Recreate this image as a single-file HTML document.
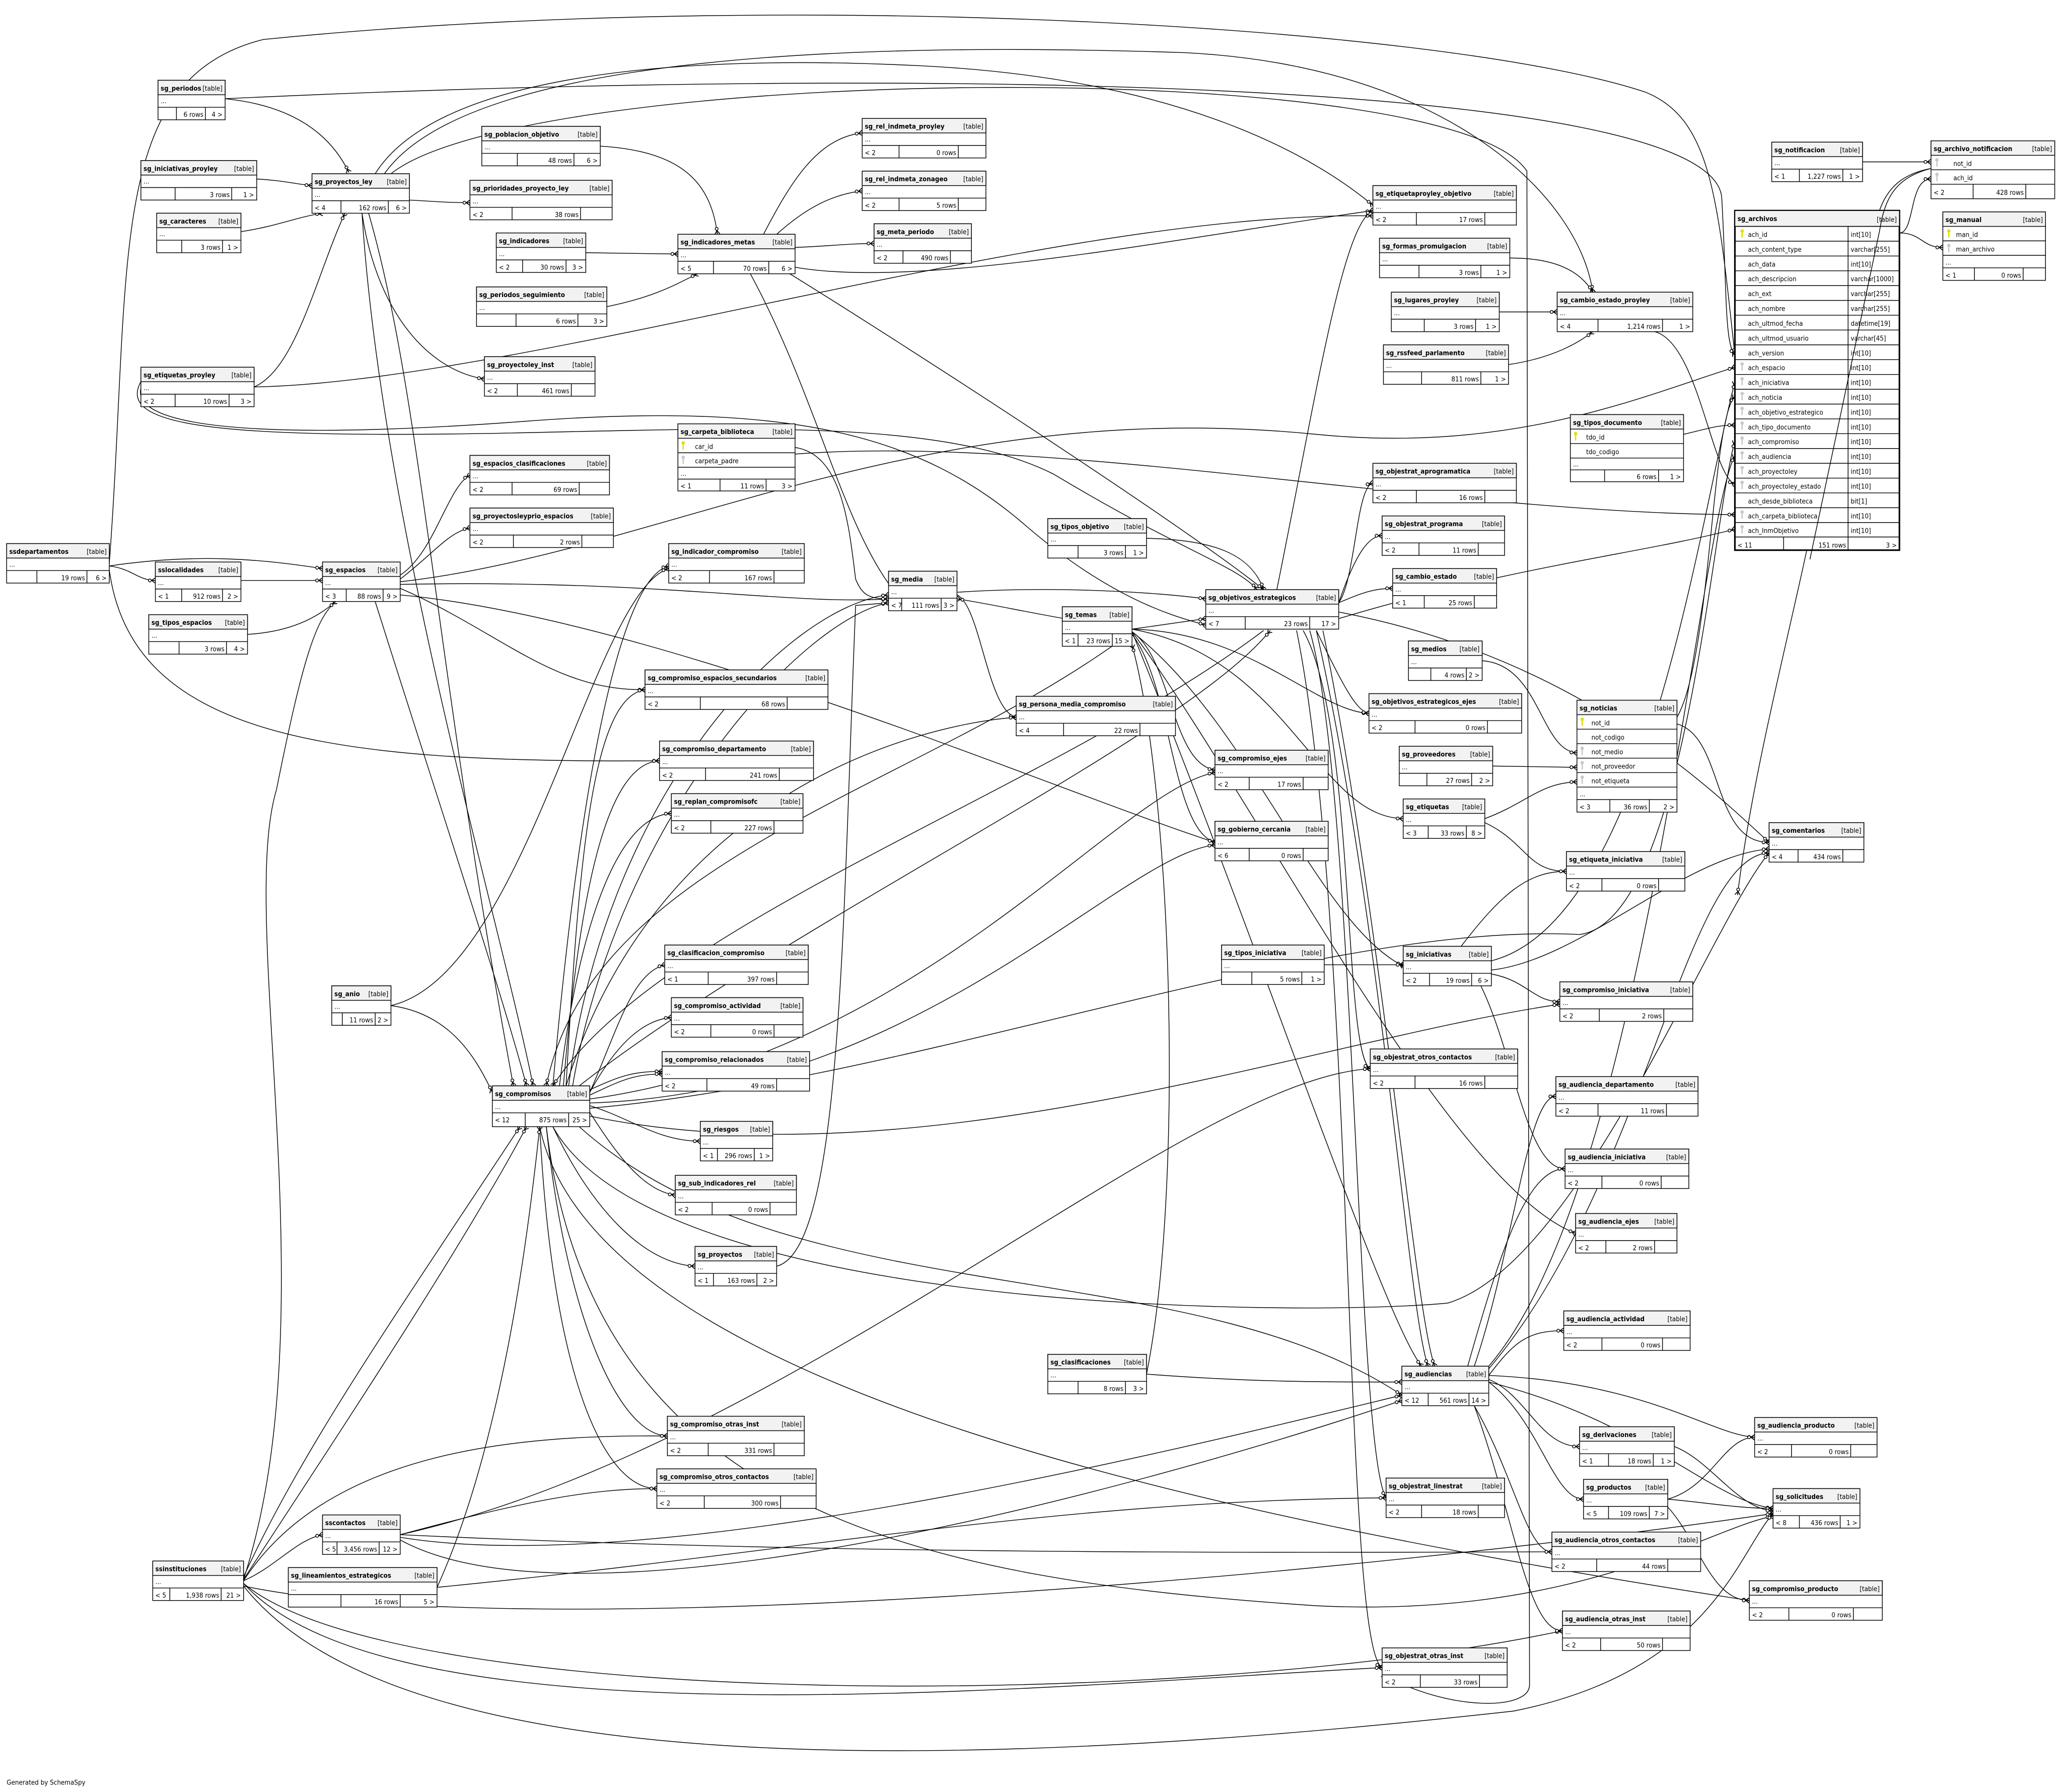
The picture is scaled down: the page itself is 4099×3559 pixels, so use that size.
<!DOCTYPE html>
<html><head><meta charset="utf-8"><style>
html,body{margin:0;padding:0;background:#fff}
svg{display:block}
text{font-family:"DejaVu Sans Condensed","DejaVu Sans","Liberation Sans",sans-serif;font-size:5.1px;fill:#000}
.n{font-weight:bold}
.e{text-anchor:end}
.t rect{fill:#fff;stroke:#000;stroke-width:.55}
.t rect.h{fill:#f2f2f2}
.t path{stroke:#000;stroke-width:.55;fill:none}
.c path{fill:none;stroke:#000;stroke-width:.55;marker-end:url(#m)}
</style></head><body>
<svg xmlns="http://www.w3.org/2000/svg" width="4099" height="3559" viewBox="0 0 1568 1361.5">
<defs>
<marker id="m" viewBox="0 0 10 6" refX="10" refY="3" markerWidth="7" markerHeight="4.2" markerUnits="userSpaceOnUse" orient="auto">
<path d="M10 0L6 3L10 6M6 3H10" fill="none" stroke="#000" stroke-width=".9"/><circle cx="4" cy="3" r="1.6" fill="#fff" stroke="#000" stroke-width=".8"/></marker>
<symbol id="kp" viewBox="0 0 3 7"><circle cx="1.5" cy="1.5" r="1.3" fill="#e0e000"/><rect x="1" y="2" width="1" height="4.6" fill="#e0e000"/></symbol>
<symbol id="kf" viewBox="0 0 3 7"><circle cx="1.5" cy="1.5" r="1.3" fill="#c8c8c8"/><rect x="1" y="2" width="1" height="4.6" fill="#c8c8c8"/></symbol>
</defs>
<rect width="1568" height="1361.5" fill="#fff"/>
<g class="c">
<path d="M171,75 C220,80 250,100 265,131"/>
<path d="M171,75 C700,50 1300,60 1308,150 C1312,220 1310,260 1318,270"/>
<path d="M195,136 C215,137 225,140 237,141"/>
<path d="M183,176 C210,172 225,165 245,162"/>
<path d="M311,152 C330,153 340,154 357,154"/>
<path d="M275,162 C285,230 320,280 368,288"/>
<path d="M285,132 C330,60 500,40 700,50 C900,60 1000,120 1043,156"/>
<path d="M292,132 C350,50 600,30 900,40 C1100,50 1200,150 1210,222"/>
<path d="M297,132 C400,50 1100,40 1160,130 L1162,1280 C1162,1300 1100,1300 1050,1272"/>
<path d="M275,162 C290,400 380,700 405,825"/>
<path d="M280,162 C320,300 330,500 390,825"/>
<path d="M456,111 C520,115 540,140 545,178"/>
<path d="M445,192 L515,193"/>
<path d="M461,233 C500,225 515,215 530,208"/>
<path d="M604,188 C630,187 645,185 664,185"/>
<path d="M580,178 C600,140 620,105 655,101"/>
<path d="M590,178 C610,160 630,148 655,145"/>
<path d="M604,203 C700,220 900,180 1043,160"/>
<path d="M600,208 C700,270 900,400 960,448"/>
<path d="M570,208 C620,300 640,400 680,450"/>
<path d="M193,294 C225,280 240,210 262,162"/>
<path d="M193,294 C400,290 800,160 1043,164"/>
<path d="M107,290 C90,320 150,330 300,330 C500,330 700,310 800,360 C900,420 940,430 955,448"/>
<path d="M107,295 C100,325 200,335 400,320 C600,305 700,330 780,400 C850,460 900,470 916,475"/>
<path d="M83,428 C100,200 80,60 200,30 C600,-10 1100,20 1250,70 C1300,90 1305,150 1318,270"/>
<path d="M83,430 C100,432 105,441 118,441"/>
<path d="M83,430 C150,420 200,425 245,432"/>
<path d="M83,433 C100,560 250,580 501,578"/>
<path d="M304,437 C330,420 340,370 357,361"/>
<path d="M304,440 C330,420 340,405 357,401"/>
<path d="M304,447 C380,480 420,525 490,524"/>
<path d="M285,457 C330,600 380,750 400,825"/>
<path d="M304,442 C500,420 700,300 1000,330 C1150,345 1250,300 1318,279"/>
<path d="M304,444 C500,440 600,460 675,455"/>
<path d="M304,452 C500,470 800,600 923,640"/>
<path d="M183,441 C210,441 225,441 245,441"/>
<path d="M188,482 C220,480 240,470 255,457"/>
<path d="M604,345 C800,330 1100,390 1318,391"/>
<path d="M604,340 C640,345 645,400 650,440 C655,452 660,455 675,455"/>
<path d="M727,452 C745,460 750,540 772,545"/>
<path d="M727,450 C800,445 880,450 916,455"/>
<path d="M860,478 L916,470"/>
<path d="M860,480 C890,500 890,580 923,585"/>
<path d="M860,482 C890,520 890,630 923,640"/>
<path d="M860,478 C950,480 1000,540 1040,542"/>
<path d="M860,480 C950,600 1100,900 1197,937"/>
<path d="M860,480 C700,600 450,650 415,825"/>
<path d="M860,478 C980,500 1000,620 1066,622"/>
<path d="M860,480 C950,550 1000,700 1066,734"/>
<path d="M860,480 C950,700 1050,1000 1080,1038"/>
<path d="M860,478 C800,470 760,460 727,455"/>
<path d="M871,409 C920,410 950,420 960,448"/>
<path d="M1017,458 C1030,440 1030,370 1043,367"/>
<path d="M1017,458 C1030,420 1040,407 1050,407"/>
<path d="M1017,458 C1035,450 1045,447 1058,447"/>
<path d="M970,448 C1000,300 1020,170 1043,160"/>
<path d="M990,479 C1030,550 1020,800 1041,812"/>
<path d="M995,479 C1030,600 1030,1100 1053,1138"/>
<path d="M985,479 C1030,700 1020,1250 1050,1267"/>
<path d="M1000,479 C1050,700 1070,1000 1085,1038"/>
<path d="M1005,479 C1050,700 1075,1000 1090,1038"/>
<path d="M960,479 C800,600 500,700 420,825"/>
<path d="M1017,470 C1150,430 1250,420 1318,402"/>
<path d="M1017,465 C1200,500 1300,600 1344,640"/>
<path d="M1000,479 C1020,520 1030,540 1040,542"/>
<path d="M1126,502 C1170,505 1170,570 1198,572"/>
<path d="M1134,582 L1198,583"/>
<path d="M1128,622 C1160,610 1170,595 1198,594"/>
<path d="M1128,625 C1160,640 1160,662 1190,662"/>
<path d="M1274,545 C1300,500 1300,320 1318,301"/>
<path d="M1274,550 C1310,560 1300,640 1344,640"/>
<path d="M1279,330 C1300,325 1305,323 1318,323"/>
<path d="M1415,123 L1467,123"/>
<path d="M1443,177 C1455,177 1450,136 1467,136"/>
<path d="M1443,177 C1460,177 1460,188 1476,188"/>
<path d="M1467,128 C1430,135 1425,160 1420,200 L1370,430 C1350,520 1330,600 1320,680"/>
<path d="M1147,196 C1180,196 1200,205 1210,222"/>
<path d="M1139,237 L1183,237"/>
<path d="M1146,277 C1180,272 1200,260 1210,252"/>
<path d="M1257,252 C1290,260 1300,360 1318,368"/>
<path d="M1006,733 L1066,733"/>
<path d="M1133,740 C1160,745 1165,761 1185,761"/>
<path d="M1125,749 C1150,800 1160,888 1189,888"/>
<path d="M1133,737 C1200,730 1280,650 1344,645"/>
<path d="M1133,730 C1250,700 1290,400 1318,290"/>
<path d="M1110,719 C1140,680 1160,662 1190,662"/>
<path d="M448,830 C470,780 480,740 505,733"/>
<path d="M448,830 C470,790 490,775 510,773"/>
<path d="M448,828 C470,818 480,814 503,814"/>
<path d="M448,832 C470,822 480,816 503,816"/>
<path d="M448,840 C480,850 500,867 532,867"/>
<path d="M448,845 C470,880 490,905 513,908"/>
<path d="M420,856 C450,920 490,960 528,962"/>
<path d="M415,856 C430,1000 470,1090 507,1091"/>
<path d="M410,856 C420,1050 460,1131 499,1131"/>
<path d="M420,825 C440,600 470,440 508,430"/>
<path d="M425,825 C440,700 470,620 510,618"/>
<path d="M428,825 C440,680 460,580 501,578"/>
<path d="M430,825 C440,650 450,530 490,524"/>
<path d="M430,825 C500,600 700,550 772,545"/>
<path d="M432,825 C460,600 600,460 675,452"/>
<path d="M435,825 C470,620 610,470 675,458"/>
<path d="M448,835 C700,800 850,600 923,587"/>
<path d="M448,838 C700,830 850,650 923,642"/>
<path d="M448,842 C700,820 1000,700 1200,710 C1280,700 1300,400 1318,335"/>
<path d="M420,856 C500,1000 1000,1000 1100,990 C1200,960 1300,700 1344,648"/>
<path d="M410,856 C450,1050 900,1150 1329,1216"/>
<path d="M448,848 C700,900 1000,790 1185,763"/>
<path d="M440,825 C600,700 900,560 965,479"/>
<path d="M440,856 C600,1000 900,950 1065,1060"/>
<path d="M415,856 C450,1150 700,1200 1000,1220 C1200,1230 1300,1160 1347,1152"/>
<path d="M297,764 C340,770 360,800 374,830"/>
<path d="M297,764 C400,740 450,450 508,432"/>
<path d="M590,962 C640,950 640,700 650,460 L675,458"/>
<path d="M304,1166 C400,1140 450,1131 499,1131"/>
<path d="M304,1166 C600,1180 900,1180 1179,1179"/>
<path d="M304,1166 C600,1100 900,820 1041,812"/>
<path d="M304,1168 C500,1200 900,1100 1065,1060"/>
<path d="M304,1170 C450,1250 900,1120 1065,1064"/>
<path d="M185,1201 C210,1190 225,1170 245,1166"/>
<path d="M185,1201 C250,1100 400,1090 507,1091"/>
<path d="M185,1203 C300,1300 900,1300 1187,1239"/>
<path d="M185,1203 C300,1330 800,1280 1050,1267"/>
<path d="M185,1200 C250,1100 350,950 400,856"/>
<path d="M185,1200 C250,1000 180,700 210,600 C230,500 240,470 255,457"/>
<path d="M185,1205 C400,1250 1000,1200 1347,1150"/>
<path d="M185,1205 C300,1350 700,1350 1150,1300 C1300,1270 1320,1180 1347,1150"/>
<path d="M185,1198 C230,1100 300,1000 395,856"/>
<path d="M332,1206 C600,1180 800,1140 1053,1138"/>
<path d="M332,1206 C380,1100 400,950 410,856"/>
<path d="M871,1044 C950,1050 1000,1050 1065,1050"/>
<path d="M871,1044 C900,900 890,600 860,490"/>
<path d="M1131,1048 C1160,1060 1170,1099 1200,1099"/>
<path d="M1131,1050 C1170,1080 1180,1139 1203,1139"/>
<path d="M1120,1068 C1150,1120 1160,1179 1179,1179"/>
<path d="M1120,1068 C1150,1150 1160,1239 1187,1239"/>
<path d="M1131,1045 C1250,1050 1300,1090 1333,1092"/>
<path d="M1131,1050 C1250,1080 1300,1140 1347,1146"/>
<path d="M1131,1040 C1250,900 1280,650 1344,648"/>
<path d="M1131,1038 C1250,900 1290,400 1318,346"/>
<path d="M1131,1045 C1150,1020 1160,1011 1188,1011"/>
<path d="M1120,1038 C1150,950 1160,833 1182,833"/>
<path d="M1115,1038 C1140,950 1160,888 1189,888"/>
<path d="M1267,1139 C1300,1130 1310,1092 1333,1092"/>
<path d="M1267,1139 C1300,1142 1320,1146 1347,1146"/>
<path d="M1267,1145 C1290,1170 1300,1216 1329,1216"/>
<path d="M1272,1099 C1300,1110 1320,1146 1347,1148"/>
</g>

<g class="t" transform="translate(120,61)"><rect width="51" height="30"/><rect class="h" width="51" height="11"/><path d="M0 20.5H51M14 20.5V30M36 20.5V30"/><text x="2" y="7.8" class="n">sg_periodos</text><text x="49" y="7.8" class="e">[table]</text><text x="2" y="17.5">...</text><text x="34.5" y="27.8" class="e">6 rows</text><text x="49" y="27.8" class="e">4 &gt;</text></g>
<g class="t" transform="translate(107,122)"><rect width="88" height="30"/><rect class="h" width="88" height="11"/><path d="M0 20.5H88M26 20.5V30M69 20.5V30"/><text x="2" y="7.8" class="n">sg_iniciativas_proyley</text><text x="86" y="7.8" class="e">[table]</text><text x="2" y="17.5">...</text><text x="67.5" y="27.8" class="e">3 rows</text><text x="86" y="27.8" class="e">1 &gt;</text></g>
<g class="t" transform="translate(119,162)"><rect width="64" height="30"/><rect class="h" width="64" height="11"/><path d="M0 20.5H64M19 20.5V30M50 20.5V30"/><text x="2" y="7.8" class="n">sg_caracteres</text><text x="62" y="7.8" class="e">[table]</text><text x="2" y="17.5">...</text><text x="48.5" y="27.8" class="e">3 rows</text><text x="62" y="27.8" class="e">1 &gt;</text></g>
<g class="t" transform="translate(237,132)"><rect width="74" height="30"/><rect class="h" width="74" height="11"/><path d="M0 20.5H74M22 20.5V30M58 20.5V30"/><text x="2" y="7.8" class="n">sg_proyectos_ley</text><text x="72" y="7.8" class="e">[table]</text><text x="2" y="17.5">...</text><text x="2" y="27.8">&lt; 4</text><text x="56.5" y="27.8" class="e">162 rows</text><text x="72" y="27.8" class="e">6 &gt;</text></g>
<g class="t" transform="translate(366,96)"><rect width="90" height="30"/><rect class="h" width="90" height="11"/><path d="M0 20.5H90M27 20.5V30M70 20.5V30"/><text x="2" y="7.8" class="n">sg_poblacion_objetivo</text><text x="88" y="7.8" class="e">[table]</text><text x="2" y="17.5">...</text><text x="68.5" y="27.8" class="e">48 rows</text><text x="88" y="27.8" class="e">6 &gt;</text></g>
<g class="t" transform="translate(357,137)"><rect width="108" height="30"/><rect class="h" width="108" height="11"/><path d="M0 20.5H108M32 20.5V30M84 20.5V30"/><text x="2" y="7.8" class="n">sg_prioridades_proyecto_ley</text><text x="106" y="7.8" class="e">[table]</text><text x="2" y="17.5">...</text><text x="2" y="27.8">&lt; 2</text><text x="82.5" y="27.8" class="e">38 rows</text></g>
<g class="t" transform="translate(655,90)"><rect width="94" height="30"/><rect class="h" width="94" height="11"/><path d="M0 20.5H94M28 20.5V30M73 20.5V30"/><text x="2" y="7.8" class="n">sg_rel_indmeta_proyley</text><text x="92" y="7.8" class="e">[table]</text><text x="2" y="17.5">...</text><text x="2" y="27.8">&lt; 2</text><text x="71.5" y="27.8" class="e">0 rows</text></g>
<g class="t" transform="translate(655,130)"><rect width="94" height="30"/><rect class="h" width="94" height="11"/><path d="M0 20.5H94M28 20.5V30M73 20.5V30"/><text x="2" y="7.8" class="n">sg_rel_indmeta_zonageo</text><text x="92" y="7.8" class="e">[table]</text><text x="2" y="17.5">...</text><text x="2" y="27.8">&lt; 2</text><text x="71.5" y="27.8" class="e">5 rows</text></g>
<g class="t" transform="translate(664,170)"><rect width="74" height="30"/><rect class="h" width="74" height="11"/><path d="M0 20.5H74M22 20.5V30M58 20.5V30"/><text x="2" y="7.8" class="n">sg_meta_periodo</text><text x="72" y="7.8" class="e">[table]</text><text x="2" y="17.5">...</text><text x="2" y="27.8">&lt; 2</text><text x="56.5" y="27.8" class="e">490 rows</text></g>
<g class="t" transform="translate(377,177)"><rect width="68" height="30"/><rect class="h" width="68" height="11"/><path d="M0 20.5H68M20 20.5V30M53 20.5V30"/><text x="2" y="7.8" class="n">sg_indicadores</text><text x="66" y="7.8" class="e">[table]</text><text x="2" y="17.5">...</text><text x="2" y="27.8">&lt; 2</text><text x="51.5" y="27.8" class="e">30 rows</text><text x="66" y="27.8" class="e">3 &gt;</text></g>
<g class="t" transform="translate(515,178)"><rect width="89" height="30"/><rect class="h" width="89" height="11"/><path d="M0 20.5H89M27 20.5V30M69 20.5V30"/><text x="2" y="7.8" class="n">sg_indicadores_metas</text><text x="87" y="7.8" class="e">[table]</text><text x="2" y="17.5">...</text><text x="2" y="27.8">&lt; 5</text><text x="67.5" y="27.8" class="e">70 rows</text><text x="87" y="27.8" class="e">6 &gt;</text></g>
<g class="t" transform="translate(362,218)"><rect width="99" height="30"/><rect class="h" width="99" height="11"/><path d="M0 20.5H99M30 20.5V30M77 20.5V30"/><text x="2" y="7.8" class="n">sg_periodos_seguimiento</text><text x="97" y="7.8" class="e">[table]</text><text x="2" y="17.5">...</text><text x="75.5" y="27.8" class="e">6 rows</text><text x="97" y="27.8" class="e">3 &gt;</text></g>
<g class="t" transform="translate(107,279)"><rect width="86" height="30"/><rect class="h" width="86" height="11"/><path d="M0 20.5H86M26 20.5V30M67 20.5V30"/><text x="2" y="7.8" class="n">sg_etiquetas_proyley</text><text x="84" y="7.8" class="e">[table]</text><text x="2" y="17.5">...</text><text x="2" y="27.8">&lt; 2</text><text x="65.5" y="27.8" class="e">10 rows</text><text x="84" y="27.8" class="e">3 &gt;</text></g>
<g class="t" transform="translate(368,271)"><rect width="84" height="30"/><rect class="h" width="84" height="11"/><path d="M0 20.5H84M25 20.5V30M66 20.5V30"/><text x="2" y="7.8" class="n">sg_proyectoley_inst</text><text x="82" y="7.8" class="e">[table]</text><text x="2" y="17.5">...</text><text x="2" y="27.8">&lt; 2</text><text x="64.5" y="27.8" class="e">461 rows</text></g>
<g class="t" transform="translate(357,346)"><rect width="106" height="30"/><rect class="h" width="106" height="11"/><path d="M0 20.5H106M32 20.5V30M83 20.5V30"/><text x="2" y="7.8" class="n">sg_espacios_clasificaciones</text><text x="104" y="7.8" class="e">[table]</text><text x="2" y="17.5">...</text><text x="2" y="27.8">&lt; 2</text><text x="81.5" y="27.8" class="e">69 rows</text></g>
<g class="t" transform="translate(357,386)"><rect width="109" height="30"/><rect class="h" width="109" height="11"/><path d="M0 20.5H109M33 20.5V30M85 20.5V30"/><text x="2" y="7.8" class="n">sg_proyectosleyprio_espacios</text><text x="107" y="7.8" class="e">[table]</text><text x="2" y="17.5">...</text><text x="2" y="27.8">&lt; 2</text><text x="83.5" y="27.8" class="e">2 rows</text></g>
<g class="t" transform="translate(508,413)"><rect width="103" height="30"/><rect class="h" width="103" height="11"/><path d="M0 20.5H103M31 20.5V30M80 20.5V30"/><text x="2" y="7.8" class="n">sg_indicador_compromiso</text><text x="101" y="7.8" class="e">[table]</text><text x="2" y="17.5">...</text><text x="2" y="27.8">&lt; 2</text><text x="78.5" y="27.8" class="e">167 rows</text></g>
<g class="t" transform="translate(5,413)"><rect width="78" height="30"/><rect class="h" width="78" height="11"/><path d="M0 20.5H78M23 20.5V30M61 20.5V30"/><text x="2" y="7.8" class="n">ssdepartamentos</text><text x="76" y="7.8" class="e">[table]</text><text x="2" y="17.5">...</text><text x="59.5" y="27.8" class="e">19 rows</text><text x="76" y="27.8" class="e">6 &gt;</text></g>
<g class="t" transform="translate(118,427)"><rect width="65" height="30"/><rect class="h" width="65" height="11"/><path d="M0 20.5H65M20 20.5V30M51 20.5V30"/><text x="2" y="7.8" class="n">sslocalidades</text><text x="63" y="7.8" class="e">[table]</text><text x="2" y="17.5">...</text><text x="2" y="27.8">&lt; 1</text><text x="49.5" y="27.8" class="e">912 rows</text><text x="63" y="27.8" class="e">2 &gt;</text></g>
<g class="t" transform="translate(245,427)"><rect width="59" height="30"/><rect class="h" width="59" height="11"/><path d="M0 20.5H59M18 20.5V30M46 20.5V30"/><text x="2" y="7.8" class="n">sg_espacios</text><text x="57" y="7.8" class="e">[table]</text><text x="2" y="17.5">...</text><text x="2" y="27.8">&lt; 3</text><text x="44.5" y="27.8" class="e">88 rows</text><text x="57" y="27.8" class="e">9 &gt;</text></g>
<g class="t" transform="translate(113,467)"><rect width="75" height="30"/><rect class="h" width="75" height="11"/><path d="M0 20.5H75M23 20.5V30M59 20.5V30"/><text x="2" y="7.8" class="n">sg_tipos_espacios</text><text x="73" y="7.8" class="e">[table]</text><text x="2" y="17.5">...</text><text x="57.5" y="27.8" class="e">3 rows</text><text x="73" y="27.8" class="e">4 &gt;</text></g>
<g class="t" transform="translate(675,434)"><rect width="52" height="30"/><rect class="h" width="52" height="11"/><path d="M0 20.5H52M10 20.5V30M40 20.5V30"/><text x="2" y="7.8" class="n">sg_media</text><text x="50" y="7.8" class="e">[table]</text><text x="2" y="17.5">...</text><text x="2" y="27.8">&lt; 7</text><text x="38.5" y="27.8" class="e">111 rows</text><text x="50" y="27.8" class="e">3 &gt;</text></g>
<g class="t" transform="translate(807,461)"><rect width="53" height="30"/><rect class="h" width="53" height="11"/><path d="M0 20.5H53M12 20.5V30M38 20.5V30"/><text x="2" y="7.8" class="n">sg_temas</text><text x="51" y="7.8" class="e">[table]</text><text x="2" y="17.5">...</text><text x="2" y="27.8">&lt; 1</text><text x="36.5" y="27.8" class="e">23 rows</text><text x="51" y="27.8" class="e">15 &gt;</text></g>
<g class="t" transform="translate(796,394)"><rect width="75" height="30"/><rect class="h" width="75" height="11"/><path d="M0 20.5H75M23 20.5V30M59 20.5V30"/><text x="2" y="7.8" class="n">sg_tipos_objetivo</text><text x="73" y="7.8" class="e">[table]</text><text x="2" y="17.5">...</text><text x="57.5" y="27.8" class="e">3 rows</text><text x="73" y="27.8" class="e">1 &gt;</text></g>
<g class="t" transform="translate(916,448)"><rect width="101" height="30"/><rect class="h" width="101" height="11"/><path d="M0 20.5H101M30 20.5V30M79 20.5V30"/><text x="2" y="7.8" class="n">sg_objetivos_estrategicos</text><text x="99" y="7.8" class="e">[table]</text><text x="2" y="17.5">...</text><text x="2" y="27.8">&lt; 7</text><text x="77.5" y="27.8" class="e">23 rows</text><text x="99" y="27.8" class="e">17 &gt;</text></g>
<g class="t" transform="translate(490,509)"><rect width="139" height="30"/><rect class="h" width="139" height="11"/><path d="M0 20.5H139M42 20.5V30M108 20.5V30"/><text x="2" y="7.8" class="n">sg_compromiso_espacios_secundarios</text><text x="137" y="7.8" class="e">[table]</text><text x="2" y="17.5">...</text><text x="2" y="27.8">&lt; 2</text><text x="106.5" y="27.8" class="e">68 rows</text></g>
<g class="t" transform="translate(772,529)"><rect width="121" height="30"/><rect class="h" width="121" height="11"/><path d="M0 20.5H121M36 20.5V30M94 20.5V30"/><text x="2" y="7.8" class="n">sg_persona_media_compromiso</text><text x="119" y="7.8" class="e">[table]</text><text x="2" y="17.5">...</text><text x="2" y="27.8">&lt; 4</text><text x="92.5" y="27.8" class="e">22 rows</text></g>
<g class="t" transform="translate(501,563)"><rect width="117" height="30"/><rect class="h" width="117" height="11"/><path d="M0 20.5H117M35 20.5V30M91 20.5V30"/><text x="2" y="7.8" class="n">sg_compromiso_departamento</text><text x="115" y="7.8" class="e">[table]</text><text x="2" y="17.5">...</text><text x="2" y="27.8">&lt; 2</text><text x="89.5" y="27.8" class="e">241 rows</text></g>
<g class="t" transform="translate(510,603)"><rect width="100" height="30"/><rect class="h" width="100" height="11"/><path d="M0 20.5H100M30 20.5V30M78 20.5V30"/><text x="2" y="7.8" class="n">sg_replan_compromisofc</text><text x="98" y="7.8" class="e">[table]</text><text x="2" y="17.5">...</text><text x="2" y="27.8">&lt; 2</text><text x="76.5" y="27.8" class="e">227 rows</text></g>
<g class="t" transform="translate(923,570)"><rect width="86" height="30"/><rect class="h" width="86" height="11"/><path d="M0 20.5H86M26 20.5V30M67 20.5V30"/><text x="2" y="7.8" class="n">sg_compromiso_ejes</text><text x="84" y="7.8" class="e">[table]</text><text x="2" y="17.5">...</text><text x="2" y="27.8">&lt; 2</text><text x="65.5" y="27.8" class="e">17 rows</text></g>
<g class="t" transform="translate(923,624)"><rect width="86" height="30"/><rect class="h" width="86" height="11"/><path d="M0 20.5H86M26 20.5V30M67 20.5V30"/><text x="2" y="7.8" class="n">sg_gobierno_cercania</text><text x="84" y="7.8" class="e">[table]</text><text x="2" y="17.5">...</text><text x="2" y="27.8">&lt; 6</text><text x="65.5" y="27.8" class="e">0 rows</text></g>
<g class="t" transform="translate(505,718)"><rect width="109" height="30"/><rect class="h" width="109" height="11"/><path d="M0 20.5H109M33 20.5V30M85 20.5V30"/><text x="2" y="7.8" class="n">sg_clasificacion_compromiso</text><text x="107" y="7.8" class="e">[table]</text><text x="2" y="17.5">...</text><text x="2" y="27.8">&lt; 1</text><text x="83.5" y="27.8" class="e">397 rows</text></g>
<g class="t" transform="translate(510,758)"><rect width="100" height="30"/><rect class="h" width="100" height="11"/><path d="M0 20.5H100M30 20.5V30M78 20.5V30"/><text x="2" y="7.8" class="n">sg_compromiso_actividad</text><text x="98" y="7.8" class="e">[table]</text><text x="2" y="17.5">...</text><text x="2" y="27.8">&lt; 2</text><text x="76.5" y="27.8" class="e">0 rows</text></g>
<g class="t" transform="translate(503,799)"><rect width="112" height="30"/><rect class="h" width="112" height="11"/><path d="M0 20.5H112M34 20.5V30M87 20.5V30"/><text x="2" y="7.8" class="n">sg_compromiso_relacionados</text><text x="110" y="7.8" class="e">[table]</text><text x="2" y="17.5">...</text><text x="2" y="27.8">&lt; 2</text><text x="85.5" y="27.8" class="e">49 rows</text></g>
<g class="t" transform="translate(374,825)"><rect width="74" height="31"/><rect class="h" width="74" height="11"/><path d="M0 20.5H74M25 20.5V31M58 20.5V31"/><text x="2" y="7.8" class="n">sg_compromisos</text><text x="72" y="7.8" class="e">[table]</text><text x="2" y="17.5">...</text><text x="2" y="27.8">&lt; 12</text><text x="56.5" y="27.8" class="e">875 rows</text><text x="72" y="27.8" class="e">25 &gt;</text></g>
<g class="t" transform="translate(252,749)"><rect width="45" height="30"/><rect class="h" width="45" height="11"/><path d="M0 20.5H45M8 20.5V30M33 20.5V30"/><text x="2" y="7.8" class="n">sg_anio</text><text x="43" y="7.8" class="e">[table]</text><text x="2" y="17.5">...</text><text x="31.5" y="27.8" class="e">11 rows</text><text x="43" y="27.8" class="e">2 &gt;</text></g>
<g class="t" transform="translate(532,852)"><rect width="55" height="30"/><rect class="h" width="55" height="11"/><path d="M0 20.5H55M13 20.5V30M41 20.5V30"/><text x="2" y="7.8" class="n">sg_riesgos</text><text x="53" y="7.8" class="e">[table]</text><text x="2" y="17.5">...</text><text x="2" y="27.8">&lt; 1</text><text x="39.5" y="27.8" class="e">296 rows</text><text x="53" y="27.8" class="e">1 &gt;</text></g>
<g class="t" transform="translate(513,893)"><rect width="92" height="30"/><rect class="h" width="92" height="11"/><path d="M0 20.5H92M28 20.5V30M72 20.5V30"/><text x="2" y="7.8" class="n">sg_sub_indicadores_rel</text><text x="90" y="7.8" class="e">[table]</text><text x="2" y="17.5">...</text><text x="2" y="27.8">&lt; 2</text><text x="70.5" y="27.8" class="e">0 rows</text></g>
<g class="t" transform="translate(528,947)"><rect width="62" height="30"/><rect class="h" width="62" height="11"/><path d="M0 20.5H62M14 20.5V30M47 20.5V30"/><text x="2" y="7.8" class="n">sg_proyectos</text><text x="60" y="7.8" class="e">[table]</text><text x="2" y="17.5">...</text><text x="2" y="27.8">&lt; 1</text><text x="45.5" y="27.8" class="e">163 rows</text><text x="60" y="27.8" class="e">2 &gt;</text></g>
<g class="t" transform="translate(507,1076)"><rect width="104" height="30"/><rect class="h" width="104" height="11"/><path d="M0 20.5H104M31 20.5V30M81 20.5V30"/><text x="2" y="7.8" class="n">sg_compromiso_otras_inst</text><text x="102" y="7.8" class="e">[table]</text><text x="2" y="17.5">...</text><text x="2" y="27.8">&lt; 2</text><text x="79.5" y="27.8" class="e">331 rows</text></g>
<g class="t" transform="translate(499,1116)"><rect width="121" height="30"/><rect class="h" width="121" height="11"/><path d="M0 20.5H121M36 20.5V30M94 20.5V30"/><text x="2" y="7.8" class="n">sg_compromiso_otros_contactos</text><text x="119" y="7.8" class="e">[table]</text><text x="2" y="17.5">...</text><text x="2" y="27.8">&lt; 2</text><text x="92.5" y="27.8" class="e">300 rows</text></g>
<g class="t" transform="translate(245,1151)"><rect width="59" height="30"/><rect class="h" width="59" height="11"/><path d="M0 20.5H59M11 20.5V30M43 20.5V30"/><text x="2" y="7.8" class="n">sscontactos</text><text x="57" y="7.8" class="e">[table]</text><text x="2" y="17.5">...</text><text x="2" y="27.8">&lt; 5</text><text x="41.5" y="27.8" class="e">3,456 rows</text><text x="57" y="27.8" class="e">12 &gt;</text></g>
<g class="t" transform="translate(116,1186)"><rect width="69" height="30"/><rect class="h" width="69" height="11"/><path d="M0 20.5H69M13 20.5V30M52 20.5V30"/><text x="2" y="7.8" class="n">ssinstituciones</text><text x="67" y="7.8" class="e">[table]</text><text x="2" y="17.5">...</text><text x="2" y="27.8">&lt; 5</text><text x="50.5" y="27.8" class="e">1,938 rows</text><text x="67" y="27.8" class="e">21 &gt;</text></g>
<g class="t" transform="translate(219,1191)"><rect width="113" height="30"/><rect class="h" width="113" height="11"/><path d="M0 20.5H113M40 20.5V30M85 20.5V30"/><text x="2" y="7.8" class="n">sg_lineamientos_estrategicos</text><text x="111" y="7.8" class="e">[table]</text><text x="2" y="17.5">...</text><text x="83.5" y="27.8" class="e">16 rows</text><text x="111" y="27.8" class="e">5 &gt;</text></g>
<g class="t" transform="translate(796,1029)"><rect width="75" height="30"/><rect class="h" width="75" height="11"/><path d="M0 20.5H75M23 20.5V30M59 20.5V30"/><text x="2" y="7.8" class="n">sg_clasificaciones</text><text x="73" y="7.8" class="e">[table]</text><text x="2" y="17.5">...</text><text x="57.5" y="27.8" class="e">8 rows</text><text x="73" y="27.8" class="e">3 &gt;</text></g>
<g class="t" transform="translate(928,718)"><rect width="78" height="30"/><rect class="h" width="78" height="11"/><path d="M0 20.5H78M23 20.5V30M61 20.5V30"/><text x="2" y="7.8" class="n">sg_tipos_iniciativa</text><text x="76" y="7.8" class="e">[table]</text><text x="2" y="17.5">...</text><text x="59.5" y="27.8" class="e">5 rows</text><text x="76" y="27.8" class="e">1 &gt;</text></g>
<g class="t" transform="translate(1043,141)"><rect width="109" height="30"/><rect class="h" width="109" height="11"/><path d="M0 20.5H109M33 20.5V30M85 20.5V30"/><text x="2" y="7.8" class="n">sg_etiquetaproyley_objetivo</text><text x="107" y="7.8" class="e">[table]</text><text x="2" y="17.5">...</text><text x="2" y="27.8">&lt; 2</text><text x="83.5" y="27.8" class="e">17 rows</text></g>
<g class="t" transform="translate(1048,181)"><rect width="99" height="30"/><rect class="h" width="99" height="11"/><path d="M0 20.5H99M30 20.5V30M77 20.5V30"/><text x="2" y="7.8" class="n">sg_formas_promulgacion</text><text x="97" y="7.8" class="e">[table]</text><text x="2" y="17.5">...</text><text x="75.5" y="27.8" class="e">3 rows</text><text x="97" y="27.8" class="e">1 &gt;</text></g>
<g class="t" transform="translate(1057,222)"><rect width="82" height="30"/><rect class="h" width="82" height="11"/><path d="M0 20.5H82M25 20.5V30M64 20.5V30"/><text x="2" y="7.8" class="n">sg_lugares_proyley</text><text x="80" y="7.8" class="e">[table]</text><text x="2" y="17.5">...</text><text x="62.5" y="27.8" class="e">3 rows</text><text x="80" y="27.8" class="e">1 &gt;</text></g>
<g class="t" transform="translate(1051,262)"><rect width="95" height="30"/><rect class="h" width="95" height="11"/><path d="M0 20.5H95M29 20.5V30M74 20.5V30"/><text x="2" y="7.8" class="n">sg_rssfeed_parlamento</text><text x="93" y="7.8" class="e">[table]</text><text x="2" y="17.5">...</text><text x="72.5" y="27.8" class="e">811 rows</text><text x="93" y="27.8" class="e">1 &gt;</text></g>
<g class="t" transform="translate(1183,222)"><rect width="103" height="30"/><rect class="h" width="103" height="11"/><path d="M0 20.5H103M31 20.5V30M80 20.5V30"/><text x="2" y="7.8" class="n">sg_cambio_estado_proyley</text><text x="101" y="7.8" class="e">[table]</text><text x="2" y="17.5">...</text><text x="2" y="27.8">&lt; 4</text><text x="78.5" y="27.8" class="e">1,214 rows</text><text x="101" y="27.8" class="e">1 &gt;</text></g>
<g class="t" transform="translate(1043,352)"><rect width="109" height="30"/><rect class="h" width="109" height="11"/><path d="M0 20.5H109M33 20.5V30M85 20.5V30"/><text x="2" y="7.8" class="n">sg_objestrat_aprogramatica</text><text x="107" y="7.8" class="e">[table]</text><text x="2" y="17.5">...</text><text x="2" y="27.8">&lt; 2</text><text x="83.5" y="27.8" class="e">16 rows</text></g>
<g class="t" transform="translate(1050,392)"><rect width="93" height="30"/><rect class="h" width="93" height="11"/><path d="M0 20.5H93M28 20.5V30M73 20.5V30"/><text x="2" y="7.8" class="n">sg_objestrat_programa</text><text x="91" y="7.8" class="e">[table]</text><text x="2" y="17.5">...</text><text x="2" y="27.8">&lt; 2</text><text x="71.5" y="27.8" class="e">11 rows</text></g>
<g class="t" transform="translate(1058,432)"><rect width="79" height="30"/><rect class="h" width="79" height="11"/><path d="M0 20.5H79M24 20.5V30M62 20.5V30"/><text x="2" y="7.8" class="n">sg_cambio_estado</text><text x="77" y="7.8" class="e">[table]</text><text x="2" y="17.5">...</text><text x="2" y="27.8">&lt; 1</text><text x="60.5" y="27.8" class="e">25 rows</text></g>
<g class="t" transform="translate(1070,487)"><rect width="56" height="30"/><rect class="h" width="56" height="11"/><path d="M0 20.5H56M17 20.5V30M44 20.5V30"/><text x="2" y="7.8" class="n">sg_medios</text><text x="54" y="7.8" class="e">[table]</text><text x="2" y="17.5">...</text><text x="42.5" y="27.8" class="e">4 rows</text><text x="54" y="27.8" class="e">2 &gt;</text></g>
<g class="t" transform="translate(1040,527)"><rect width="116" height="30"/><rect class="h" width="116" height="11"/><path d="M0 20.5H116M35 20.5V30M90 20.5V30"/><text x="2" y="7.8" class="n">sg_objetivos_estrategicos_ejes</text><text x="114" y="7.8" class="e">[table]</text><text x="2" y="17.5">...</text><text x="2" y="27.8">&lt; 2</text><text x="88.5" y="27.8" class="e">0 rows</text></g>
<g class="t" transform="translate(1063,567)"><rect width="71" height="30"/><rect class="h" width="71" height="11"/><path d="M0 20.5H71M21 20.5V30M55 20.5V30"/><text x="2" y="7.8" class="n">sg_proveedores</text><text x="69" y="7.8" class="e">[table]</text><text x="2" y="17.5">...</text><text x="53.5" y="27.8" class="e">27 rows</text><text x="69" y="27.8" class="e">2 &gt;</text></g>
<g class="t" transform="translate(1066,607)"><rect width="62" height="30"/><rect class="h" width="62" height="11"/><path d="M0 20.5H62M19 20.5V30M48 20.5V30"/><text x="2" y="7.8" class="n">sg_etiquetas</text><text x="60" y="7.8" class="e">[table]</text><text x="2" y="17.5">...</text><text x="2" y="27.8">&lt; 3</text><text x="46.5" y="27.8" class="e">33 rows</text><text x="60" y="27.8" class="e">8 &gt;</text></g>
<g class="t" transform="translate(1190,647)"><rect width="90" height="30"/><rect class="h" width="90" height="11"/><path d="M0 20.5H90M27 20.5V30M70 20.5V30"/><text x="2" y="7.8" class="n">sg_etiqueta_iniciativa</text><text x="88" y="7.8" class="e">[table]</text><text x="2" y="17.5">...</text><text x="2" y="27.8">&lt; 2</text><text x="68.5" y="27.8" class="e">0 rows</text></g>
<g class="t" transform="translate(1066,719)"><rect width="67" height="30"/><rect class="h" width="67" height="11"/><path d="M0 20.5H67M20 20.5V30M52 20.5V30"/><text x="2" y="7.8" class="n">sg_iniciativas</text><text x="65" y="7.8" class="e">[table]</text><text x="2" y="17.5">...</text><text x="2" y="27.8">&lt; 2</text><text x="50.5" y="27.8" class="e">19 rows</text><text x="65" y="27.8" class="e">6 &gt;</text></g>
<g class="t" transform="translate(1185,746)"><rect width="101" height="30"/><rect class="h" width="101" height="11"/><path d="M0 20.5H101M30 20.5V30M79 20.5V30"/><text x="2" y="7.8" class="n">sg_compromiso_iniciativa</text><text x="99" y="7.8" class="e">[table]</text><text x="2" y="17.5">...</text><text x="2" y="27.8">&lt; 2</text><text x="77.5" y="27.8" class="e">2 rows</text></g>
<g class="t" transform="translate(1041,797)"><rect width="112" height="30"/><rect class="h" width="112" height="11"/><path d="M0 20.5H112M34 20.5V30M87 20.5V30"/><text x="2" y="7.8" class="n">sg_objestrat_otros_contactos</text><text x="110" y="7.8" class="e">[table]</text><text x="2" y="17.5">...</text><text x="2" y="27.8">&lt; 2</text><text x="85.5" y="27.8" class="e">16 rows</text></g>
<g class="t" transform="translate(1182,818)"><rect width="108" height="30"/><rect class="h" width="108" height="11"/><path d="M0 20.5H108M32 20.5V30M84 20.5V30"/><text x="2" y="7.8" class="n">sg_audiencia_departamento</text><text x="106" y="7.8" class="e">[table]</text><text x="2" y="17.5">...</text><text x="2" y="27.8">&lt; 2</text><text x="82.5" y="27.8" class="e">11 rows</text></g>
<g class="t" transform="translate(1189,873)"><rect width="94" height="30"/><rect class="h" width="94" height="11"/><path d="M0 20.5H94M28 20.5V30M73 20.5V30"/><text x="2" y="7.8" class="n">sg_audiencia_iniciativa</text><text x="92" y="7.8" class="e">[table]</text><text x="2" y="17.5">...</text><text x="2" y="27.8">&lt; 2</text><text x="71.5" y="27.8" class="e">0 rows</text></g>
<g class="t" transform="translate(1197,922)"><rect width="77" height="30"/><rect class="h" width="77" height="11"/><path d="M0 20.5H77M23 20.5V30M60 20.5V30"/><text x="2" y="7.8" class="n">sg_audiencia_ejes</text><text x="75" y="7.8" class="e">[table]</text><text x="2" y="17.5">...</text><text x="2" y="27.8">&lt; 2</text><text x="58.5" y="27.8" class="e">2 rows</text></g>
<g class="t" transform="translate(1188,996)"><rect width="96" height="30"/><rect class="h" width="96" height="11"/><path d="M0 20.5H96M29 20.5V30M75 20.5V30"/><text x="2" y="7.8" class="n">sg_audiencia_actividad</text><text x="94" y="7.8" class="e">[table]</text><text x="2" y="17.5">...</text><text x="2" y="27.8">&lt; 2</text><text x="73.5" y="27.8" class="e">0 rows</text></g>
<g class="t" transform="translate(1065,1038)"><rect width="66" height="30"/><rect class="h" width="66" height="11"/><path d="M0 20.5H66M20 20.5V30M51 20.5V30"/><text x="2" y="7.8" class="n">sg_audiencias</text><text x="64" y="7.8" class="e">[table]</text><text x="2" y="17.5">...</text><text x="2" y="27.8">&lt; 12</text><text x="49.5" y="27.8" class="e">561 rows</text><text x="64" y="27.8" class="e">14 &gt;</text></g>
<g class="t" transform="translate(1200,1084)"><rect width="72" height="30"/><rect class="h" width="72" height="11"/><path d="M0 20.5H72M22 20.5V30M56 20.5V30"/><text x="2" y="7.8" class="n">sg_derivaciones</text><text x="70" y="7.8" class="e">[table]</text><text x="2" y="17.5">...</text><text x="2" y="27.8">&lt; 1</text><text x="54.5" y="27.8" class="e">18 rows</text><text x="70" y="27.8" class="e">1 &gt;</text></g>
<g class="t" transform="translate(1203,1124)"><rect width="64" height="30"/><rect class="h" width="64" height="11"/><path d="M0 20.5H64M19 20.5V30M50 20.5V30"/><text x="2" y="7.8" class="n">sg_productos</text><text x="62" y="7.8" class="e">[table]</text><text x="2" y="17.5">...</text><text x="2" y="27.8">&lt; 5</text><text x="48.5" y="27.8" class="e">109 rows</text><text x="62" y="27.8" class="e">7 &gt;</text></g>
<g class="t" transform="translate(1179,1164)"><rect width="113" height="30"/><rect class="h" width="113" height="11"/><path d="M0 20.5H113M34 20.5V30M88 20.5V30"/><text x="2" y="7.8" class="n">sg_audiencia_otros_contactos</text><text x="111" y="7.8" class="e">[table]</text><text x="2" y="17.5">...</text><text x="2" y="27.8">&lt; 2</text><text x="86.5" y="27.8" class="e">44 rows</text></g>
<g class="t" transform="translate(1187,1224)"><rect width="97" height="30"/><rect class="h" width="97" height="11"/><path d="M0 20.5H97M29 20.5V30M76 20.5V30"/><text x="2" y="7.8" class="n">sg_audiencia_otras_inst</text><text x="95" y="7.8" class="e">[table]</text><text x="2" y="17.5">...</text><text x="2" y="27.8">&lt; 2</text><text x="74.5" y="27.8" class="e">50 rows</text></g>
<g class="t" transform="translate(1053,1123)"><rect width="90" height="30"/><rect class="h" width="90" height="11"/><path d="M0 20.5H90M27 20.5V30M70 20.5V30"/><text x="2" y="7.8" class="n">sg_objestrat_linestrat</text><text x="88" y="7.8" class="e">[table]</text><text x="2" y="17.5">...</text><text x="2" y="27.8">&lt; 2</text><text x="68.5" y="27.8" class="e">18 rows</text></g>
<g class="t" transform="translate(1050,1252)"><rect width="95" height="30"/><rect class="h" width="95" height="11"/><path d="M0 20.5H95M29 20.5V30M74 20.5V30"/><text x="2" y="7.8" class="n">sg_objestrat_otras_inst</text><text x="93" y="7.8" class="e">[table]</text><text x="2" y="17.5">...</text><text x="2" y="27.8">&lt; 2</text><text x="72.5" y="27.8" class="e">33 rows</text></g>
<g class="t" transform="translate(1333,1077)"><rect width="93" height="30"/><rect class="h" width="93" height="11"/><path d="M0 20.5H93M28 20.5V30M73 20.5V30"/><text x="2" y="7.8" class="n">sg_audiencia_producto</text><text x="91" y="7.8" class="e">[table]</text><text x="2" y="17.5">...</text><text x="2" y="27.8">&lt; 2</text><text x="71.5" y="27.8" class="e">0 rows</text></g>
<g class="t" transform="translate(1347,1131)"><rect width="66" height="30"/><rect class="h" width="66" height="11"/><path d="M0 20.5H66M20 20.5V30M51 20.5V30"/><text x="2" y="7.8" class="n">sg_solicitudes</text><text x="64" y="7.8" class="e">[table]</text><text x="2" y="17.5">...</text><text x="2" y="27.8">&lt; 8</text><text x="49.5" y="27.8" class="e">436 rows</text><text x="64" y="27.8" class="e">1 &gt;</text></g>
<g class="t" transform="translate(1329,1201)"><rect width="101" height="30"/><rect class="h" width="101" height="11"/><path d="M0 20.5H101M30 20.5V30M79 20.5V30"/><text x="2" y="7.8" class="n">sg_compromiso_producto</text><text x="99" y="7.8" class="e">[table]</text><text x="2" y="17.5">...</text><text x="2" y="27.8">&lt; 2</text><text x="77.5" y="27.8" class="e">0 rows</text></g>
<g class="t" transform="translate(1344,625)"><rect width="72" height="30"/><rect class="h" width="72" height="11"/><path d="M0 20.5H72M22 20.5V30M56 20.5V30"/><text x="2" y="7.8" class="n">sg_comentarios</text><text x="70" y="7.8" class="e">[table]</text><text x="2" y="17.5">...</text><text x="2" y="27.8">&lt; 4</text><text x="54.5" y="27.8" class="e">434 rows</text></g>
<g class="t" transform="translate(1346,108)"><rect width="69" height="30"/><rect class="h" width="69" height="11"/><path d="M0 20.5H69M21 20.5V30M54 20.5V30"/><text x="2" y="7.8" class="n">sg_notificacion</text><text x="67" y="7.8" class="e">[table]</text><text x="2" y="17.5">...</text><text x="2" y="27.8">&lt; 1</text><text x="52.5" y="27.8" class="e">1,227 rows</text><text x="67" y="27.8" class="e">1 &gt;</text></g>

<g class="t" transform="translate(515,322)"><rect width="89" height="51"/><rect class="h" width="89" height="11"/><path d="M0 22H89M0 33H89M0 42H89M32 42V51M67 42V51"/><text x="2" y="7.8" class="n">sg_carpeta_biblioteca</text><text x="87" y="7.8" class="e">[table]</text><use href="#kp" x="2.5" y="13" width="3" height="7"/><text x="13" y="19">car_id</text><use href="#kf" x="2.5" y="24" width="3" height="7"/><text x="13" y="30">carpeta_padre</text><text x="2" y="39.5">...</text><text x="2" y="49">&lt; 1</text><text x="65.5" y="49" class="e">11 rows</text><text x="87" y="49" class="e">3 &gt;</text></g>
<g class="t" transform="translate(1193,315)"><rect width="86" height="51"/><rect class="h" width="86" height="11"/><path d="M0 22H86M0 33H86M0 42H86M26 42V51M67 42V51"/><text x="2" y="7.8" class="n">sg_tipos_documento</text><text x="84" y="7.8" class="e">[table]</text><use href="#kp" x="2.5" y="13" width="3" height="7"/><text x="12" y="19">tdo_id</text><text x="12" y="30">tdo_codigo</text><text x="2" y="39.5">...</text><text x="65.5" y="49" class="e">6 rows</text><text x="84" y="49" class="e">1 &gt;</text></g>
<g class="t" transform="translate(1198,532)"><rect width="76" height="85"/><rect class="h" width="76" height="11"/><path d="M0 22H76M0 33H76M0 44H76M0 55H76M0 66H76M0 75.5H76M25 75.5V85M55 75.5V85"/><text x="2" y="7.8" class="n">sg_noticias</text><text x="74" y="7.8" class="e">[table]</text><use href="#kp" x="2.5" y="13" width="3" height="7"/><text x="11" y="19">not_id</text><text x="11" y="30">not_codigo</text><use href="#kf" x="2.5" y="35" width="3" height="7"/><text x="11" y="41">not_medio</text><use href="#kf" x="2.5" y="46" width="3" height="7"/><text x="11" y="52">not_proveedor</text><use href="#kf" x="2.5" y="57" width="3" height="7"/><text x="11" y="63">not_etiqueta</text><text x="2" y="73">...</text><text x="2" y="83">&lt; 3</text><text x="53.5" y="83" class="e">36 rows</text><text x="74" y="83" class="e">2 &gt;</text></g>
<g class="t" transform="translate(1467,107)"><rect width="94" height="44"/><rect class="h" width="94" height="11"/><path d="M0 22H94M0 33H94M0 33H94M32 33V44M72 33V44"/><text x="2" y="7.8" class="n">sg_archivo_notificacion</text><text x="92" y="7.8" class="e">[table]</text><use href="#kf" x="3" y="13" width="3" height="7"/><text x="17" y="19">not_id</text><use href="#kf" x="3" y="24" width="3" height="7"/><text x="17" y="30">ach_id</text><text x="2" y="41">&lt; 2</text><text x="70.5" y="41" class="e">428 rows</text></g>
<g class="t" transform="translate(1476,161)"><rect width="78" height="52"/><rect class="h" width="78" height="11"/><path d="M0 22H78M0 33H78M0 42.5H78M24 42.5V52M61 42.5V52"/><text x="2" y="7.8" class="n">sg_manual</text><text x="76" y="7.8" class="e">[table]</text><use href="#kp" x="3" y="13" width="3" height="7"/><text x="10" y="19">man_id</text><use href="#kf" x="3" y="24" width="3" height="7"/><text x="10" y="30">man_archivo</text><text x="2" y="40">...</text><text x="2" y="50">&lt; 1</text><text x="59.5" y="50" class="e">0 rows</text></g>

<g class="t" transform="translate(1318,160)"><rect width="125" height="258" style="stroke-width:1.2"/><rect class="h" width="125" height="12"/><path d="M0 12H125M0 23.25H125M0 34.5H125M0 45.75H125M0 57H125M0 68.25H125M0 79.5H125M0 90.75H125M0 102H125M0 113.25H125M0 124.5H125M0 135.75H125M0 147H125M0 158.25H125M0 169.5H125M0 180.75H125M0 192H125M0 203.25H125M0 214.5H125M0 225.75H125M0 237H125M0 248H125M86 12V258M37 248V258"/>
<text x="2" y="8" class="n">sg_archivos</text><text x="123" y="8.5" class="e">[table]</text>
<use href="#kp" x="4" y="14" width="3" height="7"/>
<use href="#kf" x="4" y="115" width="3" height="7"/><use href="#kf" x="4" y="126.3" width="3" height="7"/><use href="#kf" x="4" y="137.5" width="3" height="7"/><use href="#kf" x="4" y="148.8" width="3" height="7"/><use href="#kf" x="4" y="160" width="3" height="7"/><use href="#kf" x="4" y="171.3" width="3" height="7"/><use href="#kf" x="4" y="182.5" width="3" height="7"/><use href="#kf" x="4" y="193.8" width="3" height="7"/><use href="#kf" x="4" y="205" width="3" height="7"/><use href="#kf" x="4" y="227.5" width="3" height="7"/><use href="#kf" x="4" y="238.8" width="3" height="7"/>
<text x="10" y="20">ach_id</text><text x="88" y="20">int[10]</text>
<text x="10" y="31.25">ach_content_type</text><text x="88" y="31.25">varchar[255]</text>
<text x="10" y="42.5">ach_data</text><text x="88" y="42.5">int[10]</text>
<text x="10" y="53.75">ach_descripcion</text><text x="88" y="53.75">varchar[1000]</text>
<text x="10" y="65">ach_ext</text><text x="88" y="65">varchar[255]</text>
<text x="10" y="76.25">ach_nombre</text><text x="88" y="76.25">varchar[255]</text>
<text x="10" y="87.5">ach_ultmod_fecha</text><text x="88" y="87.5">datetime[19]</text>
<text x="10" y="98.75">ach_ultmod_usuario</text><text x="88" y="98.75">varchar[45]</text>
<text x="10" y="110">ach_version</text><text x="88" y="110">int[10]</text>
<text x="10" y="121.25">ach_espacio</text><text x="88" y="121.25">int[10]</text>
<text x="10" y="132.5">ach_iniciativa</text><text x="88" y="132.5">int[10]</text>
<text x="10" y="143.75">ach_noticia</text><text x="88" y="143.75">int[10]</text>
<text x="10" y="155">ach_objetivo_estrategico</text><text x="88" y="155">int[10]</text>
<text x="10" y="166.25">ach_tipo_documento</text><text x="88" y="166.25">int[10]</text>
<text x="10" y="177.5">ach_compromiso</text><text x="88" y="177.5">int[10]</text>
<text x="10" y="188.75">ach_audiencia</text><text x="88" y="188.75">int[10]</text>
<text x="10" y="200">ach_proyectoley</text><text x="88" y="200">int[10]</text>
<text x="10" y="211.25">ach_proyectoley_estado</text><text x="88" y="211.25">int[10]</text>
<text x="10" y="222.5">ach_desde_biblioteca</text><text x="88" y="222.5">bit[1]</text>
<text x="10" y="233.75">ach_carpeta_biblioteca</text><text x="88" y="233.75">int[10]</text>
<text x="10" y="245">ach_InmObjetivo</text><text x="88" y="245">int[10]</text>
<text x="2" y="256">&lt; 11</text><text x="84.5" y="256" class="e">151 rows</text><text x="123" y="256" class="e">3 &gt;</text></g>
<path d="M1467,128 C1440,135 1432,150 1428,175 L1375,425" fill="none" stroke="#000" stroke-width=".55"/>

<text x="5" y="1356">Generated by SchemaSpy</text>
</svg>
</body></html>
